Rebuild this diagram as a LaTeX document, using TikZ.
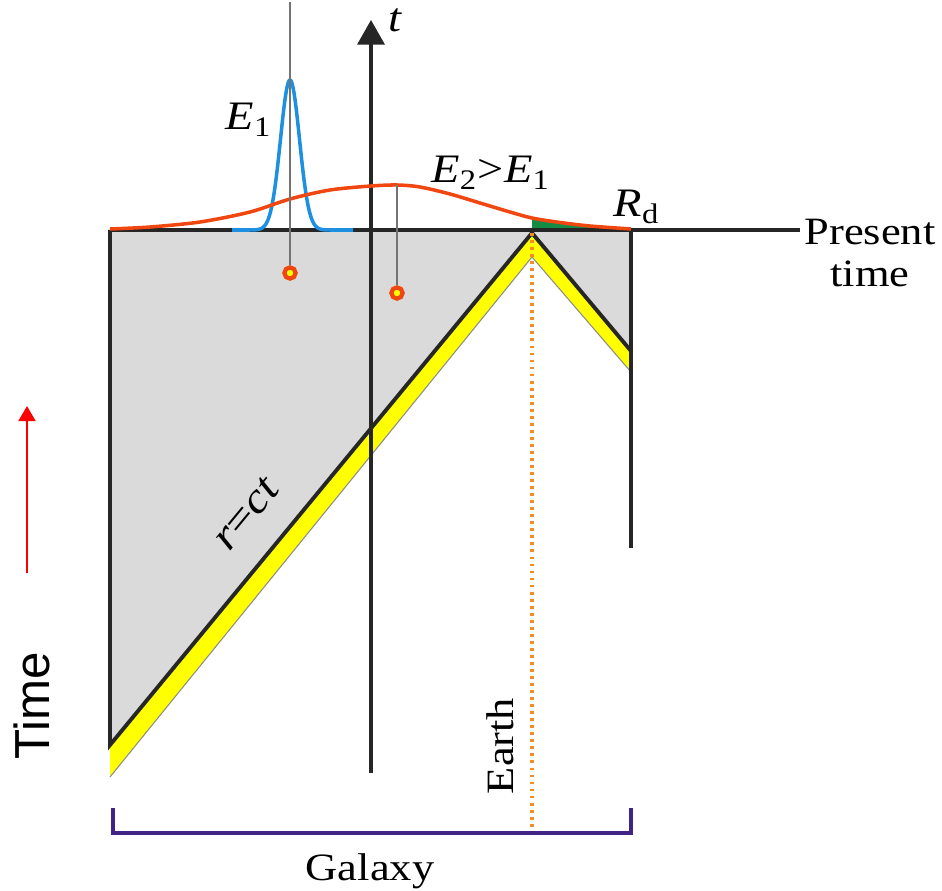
\documentclass[tikz,border=0pt]{standalone}
\usepackage{fontspec}
\setmainfont{Liberation Serif}[FakeStretch=1.15]
\newfontfamily\timefont{Liberation Sans}
\usetikzlibrary{arrows.meta}
\definecolor{conegrey}{RGB}{218,218,218}
\definecolor{bandyellow}{RGB}{255,255,0}
\definecolor{wideorange}{RGB}{240,70,15}
\definecolor{narrowblue}{RGB}{30,144,225}
\definecolor{nearfield}{RGB}{20,140,70}
\definecolor{bracketpurple}{RGB}{65,35,135}
\definecolor{earthorange}{RGB}{245,140,40}

\begin{document}
\begin{tikzpicture}[
  x=0.01cm, y=-0.01cm,
  axis/.style={line width=0.9pt, black!85},
  cone/.style={line width=1.1pt, black!85},
  stem/.style={line width=0.5pt, black!55},
  pulse/.style={line width=1pt},
  hit/.style={circle, draw=wideorange, fill=bandyellow, line width=1.2pt, inner sep=0pt, minimum size=3.2pt},
  lbl/.style={font=\fontsize{11}{12}\selectfont, inner sep=0pt},
  mlbl/.style={lbl, font=\fontsize{11.5}{12}\selectfont\itshape},
  timelbl/.style={font=\timefont\fontsize{14}{14}\selectfont, inner sep=0pt}
]
\useasboundingbox (0,0) rectangle (942,891);

% light-cone geometry
\coordinate (tl) at (110,230);
\coordinate (tr) at (631,230);
\coordinate (apex) at (532,233);
\coordinate (lb) at (110,745);
\coordinate (rb) at (631,351);
\coordinate (ybl) at (110,777);
\coordinate (yap) at (532,257);
\coordinate (ybr) at (631,372);
\coordinate (rend) at (631,548);

\fill[conegrey] (tl) -- (tr) -- (rb) -- (apex) -- (lb) -- cycle;
\fill[bandyellow] (lb) -- (apex) -- (rb) -- (ybr) -- (yap) -- (ybl) -- cycle;
\draw[black!45, line width=0.3pt] (ybl) -- (yap) -- (ybr);

% green part under the wide pulse
\begin{scope}
  \clip (532,150) rectangle (631,230);
  \fill[nearfield] plot[smooth] coordinates {(110,229) (150,227) (200,222) (250,212) (290,199) (330,190) (371,186) (397,185) (420,187) (450,194) (480,203) (510,212) (532,218) (560,222.5) (590,226) (631,229)} -- (631,230) -- (110,230) -- cycle;
\end{scope}

% present time line
\coordinate (pend) at (800,230);
\draw[axis] (tl) -- (pend);
\node[lbl, align=center, anchor=north] (present) at (870,218) {Present\\time};

% edges of the cone
\draw[cone] (tl) -- (lb) -- (apex) -- (rb);
\draw[cone] (tr) -- (rend);

% t axis
\coordinate (tbot) at (371,773);
\coordinate (ttop) at (371,20);
\draw[axis, -{Triangle[width=7.7pt,length=7pt]}] (tbot) -- (ttop);
\node[mlbl, anchor=base west] (tlab) at (388,32) {t};

% Earth
\coordinate (earthbot) at (532,833);
\draw[earthorange, line width=0.9pt, dash pattern=on 0.8pt off 1.2pt] (apex) -- (earthbot);
\node[lbl, rotate=90] (earth) at (500,746) {Earth};

% pulses
\draw[pulse, narrowblue] plot[domain=232:353, samples=120] (\x, {230-150*exp(-((\x-290)^2)/180)});
\draw[pulse, wideorange] plot[smooth] coordinates {(110,229) (150,227) (200,222) (250,212) (290,199) (330,190) (371,186) (397,185) (420,187) (450,194) (480,203) (510,212) (532,218) (560,222.5) (590,226) (631,229)};

\node[hit] (hit1) at (290,273) {};
\node[hit] (hit2) at (397,293) {};
\coordinate (top1) at (290,2);
\coordinate (top2) at (397,185);
\draw[stem] (top1) -- (hit1);
\draw[stem] (top2) -- (hit2);

\node[mlbl, anchor=base west] (e1) at (225,130) {E\textsubscript{\upshape 1}};
\node[mlbl, anchor=base] (e2) at (491,183) {E\textsubscript{\upshape 2}{\upshape >}E\textsubscript{\upshape 1}};
\node[mlbl, anchor=base west] (rd) at (613,217) {R\textsubscript{\upshape d}};
\node[lbl, rotate=50.5, font=\fontsize{12}{12}\selectfont\itshape] (rct) at (246,514) {r{\upshape =}ct};

% galaxy bracket
\coordinate (gl) at (113,808);
\coordinate (gr) at (631,808);
\draw[bracketpurple, line width=1pt] (gl) -- (113,833) -- (631,833) -- (gr);
\node[lbl, anchor=base] (galaxy) at (370,880) {Galaxy};

% time arrow
\coordinate (arrbot) at (27,573);
\coordinate (arrtop) at (27,406);
\draw[red, line width=0.7pt, -{Triangle[width=4.8pt,length=4.3pt]}] (arrbot) -- (arrtop);
\node[timelbl, rotate=90] (timelabel) at (32,706) {Time};

\end{tikzpicture}
\end{document}
